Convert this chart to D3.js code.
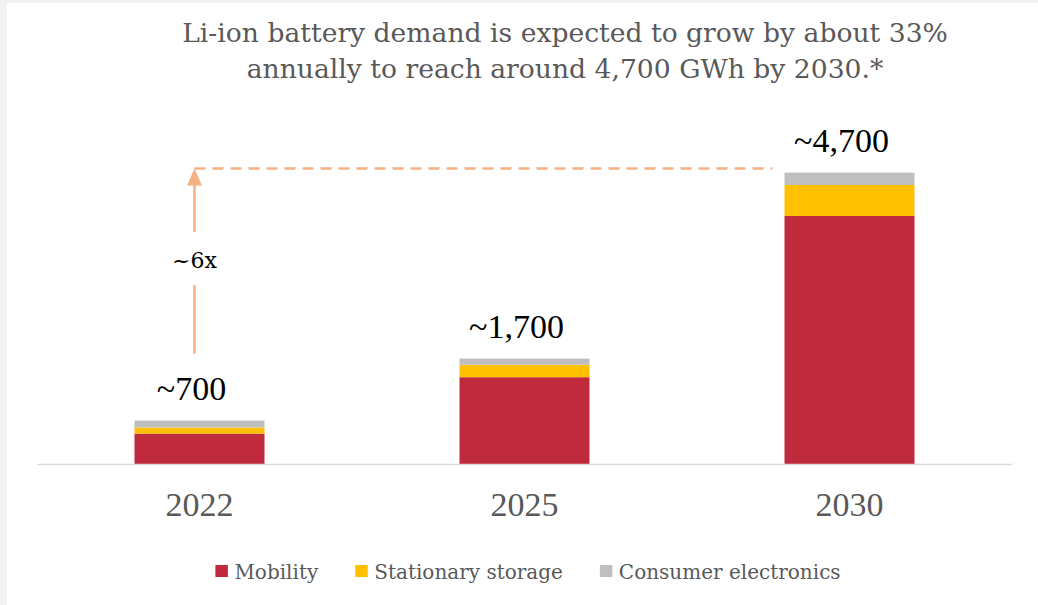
<!DOCTYPE html>
<html>
<head>
<meta charset="utf-8">
<script src="https://cdn.jsdelivr.net/npm/d3@7"></script>
<style>
  body { margin: 0; background: #f2f2f2; }
  svg { display: block; }
</style>
</head>
<body>
<div id="chart"></div>
<script>
// Li-ion battery demand by segment, GWh

var years = ["2022", "2025", "2030"];
var mobility = [490, 1400, 4000];
var stationary = [100, 200, 500];
var consumer = [110, 100, 200];
var totalLabels = ["~700", "~1,700", "~4,700"];
var seriesNames = ["Mobility", "Stationary storage", "Consumer electronics"];
var seriesColors = ["#bf2a3c", "#ffc000", "#bfbfbf"];
var titleLines = ["Li-ion battery demand is expected to grow by about 33%",
                  "annually to reach around 4,700 GWh by 2030.*"];
var growthLabel = "~6x";

var W = 1038, H = 605;
var serif = "'DejaVu Serif', serif";
var numFont = "'Liberation Serif', serif";

var svg = d3.select("#chart").append("svg")
    .attr("width", W)
    .attr("height", H);

svg.append("rect").attr("width", W).attr("height", H).attr("fill", "#f2f2f2");
svg.append("rect").attr("x", 7).attr("y", 3).attr("width", W - 7).attr("height", H - 3).attr("fill", "#fff");

// title
svg.append("g").selectAll("text")
  .data(titleLines)
  .enter().append("text")
    .attr("x", 565)
    .attr("y", function(d, i) { return 41.5 + i * 36.5; })
    .attr("text-anchor", "middle")
    .attr("font-family", serif)
    .attr("font-size", 26.6)
    .attr("fill", "#595959")
    .text(function(d) { return d; });

var table = years.map(function(y, i) {
  return {year: y, Mobility: mobility[i], "Stationary storage": stationary[i],
          "Consumer electronics": consumer[i], label: totalLabels[i],
          total: mobility[i] + stationary[i] + consumer[i]};
});

var x = d3.scaleBand()
    .domain(years)
    .range([37, 1012])
    .paddingInner(0.6)
    .paddingOuter(0.3);

var y = d3.scaleLinear()
    .domain([0, 5000])
    .range([464, 154]);

var stack = d3.stack().keys(seriesNames)(table);

svg.append("g")
  .selectAll("g")
  .data(stack)
  .enter().append("g")
    .attr("fill", function(d, i) { return seriesColors[i]; })
  .selectAll("rect")
  .data(function(d) { return d; })
  .enter().append("rect")
    .attr("x", function(d) { return x(d.data.year); })
    .attr("y", function(d) { return y(d[1]); })
    .attr("width", x.bandwidth())
    .attr("height", function(d) { return y(d[0]) - y(d[1]); });

// x axis
var xAxis = svg.append("g")
    .attr("transform", "translate(0," + y(0) + ")")
    .call(d3.axisBottom(x).tickSize(0).tickPadding(28));
xAxis.select(".domain").attr("stroke", "#d9d9d9").attr("stroke-width", 1.5);
xAxis.selectAll("text")
    .attr("font-family", numFont)
    .attr("font-size", 34)
    .attr("fill", "#595959");

// total labels
svg.append("g").selectAll("text")
  .data(table)
  .enter().append("text")
    .attr("x", function(d) { return x(d.year) + x.bandwidth() / 2 - 8; })
    .attr("y", function(d) { return y(d.total) - 21; })
    .attr("text-anchor", "middle")
    .attr("font-family", numFont)
    .attr("font-size", 34)
    .attr("fill", "#000")
    .text(function(d) { return d.label; });

// growth arrow
var arrowColor = "#f4b183";
var ax = x(years[0]) + x.bandwidth() / 2 - 5;
var topY = y(table[2].total) - 4;
var baseY = y(table[0].total) - 67;
svg.append("line")
    .attr("x1", ax).attr("x2", x(years[2]) - 12)
    .attr("y1", topY).attr("y2", topY)
    .attr("stroke", arrowColor)
    .attr("stroke-width", 2.5)
    .attr("stroke-dasharray", "11,7");
svg.append("line")
    .attr("x1", ax).attr("x2", ax)
    .attr("y1", baseY).attr("y2", 285)
    .attr("stroke", arrowColor).attr("stroke-width", 2.5);
svg.append("line")
    .attr("x1", ax).attr("x2", ax)
    .attr("y1", 232).attr("y2", topY + 14)
    .attr("stroke", arrowColor).attr("stroke-width", 2.5);
svg.append("path")
    .attr("d", "M" + ax + "," + topY + "L" + (ax - 7.5) + "," + (topY + 17) + "L" + (ax + 7.5) + "," + (topY + 17) + "Z")
    .attr("fill", arrowColor);
svg.append("text")
    .attr("x", ax)
    .attr("y", 268)
    .attr("text-anchor", "middle")
    .attr("font-family", serif)
    .attr("font-size", 22)
    .attr("fill", "#000")
    .text(growthLabel);

// legend
var legend = svg.append("g");
var lx = 0;
seriesNames.forEach(function(name, i) {
  var g = legend.append("g").attr("transform", "translate(" + lx + ",0)");
  g.append("rect")
    .attr("x", 0).attr("y", 565)
    .attr("width", 12.5).attr("height", 12)
    .attr("fill", seriesColors[i]);
  var t = g.append("text")
    .attr("x", 19).attr("y", 578.5)
    .attr("font-family", serif)
    .attr("font-size", 20)
    .attr("fill", "#595959")
    .text(name);
  lx += 19 + t.node().getComputedTextLength() + 37;
});
var lw = lx - 37;
legend.attr("transform", "translate(" + (528 - lw / 2) + ",0)");
</script>
</body>
</html>
